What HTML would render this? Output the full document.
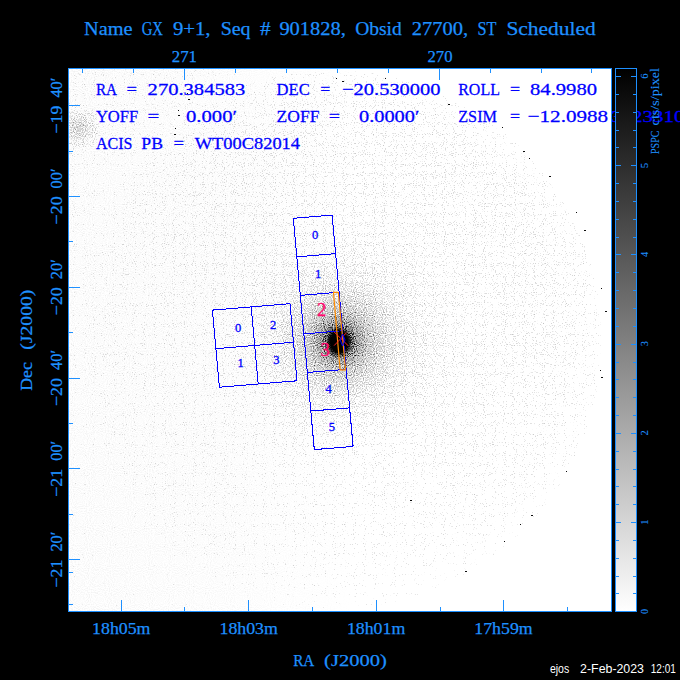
<!DOCTYPE html><html><head><meta charset="utf-8"><style>
html,body{margin:0;padding:0;background:#000;width:680px;height:680px;overflow:hidden}
svg{display:block}
text{font-family:"Liberation Serif",serif}
</style></head><body>
<svg width="680" height="680" viewBox="0 0 680 680">
<defs>
<linearGradient id="cb" x1="0" y1="0" x2="0" y2="1">
<stop offset="0" stop-color="#000"/><stop offset="1" stop-color="#fff"/>
</linearGradient>
<radialGradient id="core" cx="339" cy="342" r="13" gradientUnits="userSpaceOnUse">
<stop offset="0" stop-color="#000" stop-opacity="1"/>
<stop offset="0.65" stop-color="#000" stop-opacity="1"/>
<stop offset="1" stop-color="#000" stop-opacity="0"/>
</radialGradient>
<filter id="spk" x="68" y="68" width="544" height="544" filterUnits="userSpaceOnUse" color-interpolation-filters="sRGB">
<feTurbulence type="fractalNoise" baseFrequency="0.9" numOctaves="1" seed="7" result="n"/>
<feComposite in="n" in2="SourceGraphic" operator="arithmetic" k1="0" k2="1" k3="1" k4="-1" result="c"/>
<feComponentTransfer in="c" result="a"><feFuncA type="table" tableValues="0 0.1 0.13 0.17 0.22 0.29 0.38 0.48 0.6 0.72 0.84 0.94 1 1 1 1 1 1 1 1 1"/></feComponentTransfer>
<feFlood flood-color="#000" result="blk"/>
<feComposite in="blk" in2="a" operator="in"/>
</filter>
<radialGradient id="dfield" cx="430" cy="200" r="450" gradientUnits="userSpaceOnUse">
<stop offset="0" stop-color="#000" stop-opacity="0.40"/>
<stop offset="0.4" stop-color="#000" stop-opacity="0.395"/>
<stop offset="0.6" stop-color="#000" stop-opacity="0.37"/>
<stop offset="0.8" stop-color="#000" stop-opacity="0.34"/>
<stop offset="1" stop-color="#000" stop-opacity="0.32"/>
</radialGradient>
<linearGradient id="dbase" x1="200" y1="0" x2="420" y2="0" gradientUnits="userSpaceOnUse">
<stop offset="0" stop-color="#fff" stop-opacity="1"/>
<stop offset="1" stop-color="#fff" stop-opacity="0"/>
</linearGradient>
<mask id="mout" maskUnits="userSpaceOnUse" x="0" y="0" width="680" height="680"><rect x="0" y="0" width="680" height="680" fill="url(#dbase)"/><circle cx="332" cy="340" r="270" fill="#000"/></mask>
<radialGradient id="dsrc" cx="339" cy="341" r="130" gradientUnits="userSpaceOnUse">
<stop offset="0" stop-color="#000" stop-opacity="1"/>
<stop offset="0.07" stop-color="#000" stop-opacity="1"/>
<stop offset="0.14" stop-color="#000" stop-opacity="0.66"/>
<stop offset="0.23" stop-color="#000" stop-opacity="0.44"/>
<stop offset="0.35" stop-color="#000" stop-opacity="0.28"/>
<stop offset="0.5" stop-color="#000" stop-opacity="0.14"/>
<stop offset="0.75" stop-color="#000" stop-opacity="0.04"/>
<stop offset="1" stop-color="#000" stop-opacity="0"/>
</radialGradient>
<radialGradient id="dfaint" cx="79" cy="128" r="26" gradientUnits="userSpaceOnUse">
<stop offset="0" stop-color="#000" stop-opacity="0.42"/>
<stop offset="0.4" stop-color="#000" stop-opacity="0.3"/>
<stop offset="1" stop-color="#000" stop-opacity="0"/>
</radialGradient>
<radialGradient id="dann" cx="332" cy="340" r="270" gradientUnits="userSpaceOnUse">
<stop offset="0" stop-color="#000" stop-opacity="0"/>
<stop offset="0.6" stop-color="#000" stop-opacity="0"/>
<stop offset="0.9" stop-color="#000" stop-opacity="0.04"/>
<stop offset="1" stop-color="#000" stop-opacity="0.06"/>
</radialGradient>
<linearGradient id="mlin" x1="220" y1="0" x2="470" y2="0" gradientUnits="userSpaceOnUse">
<stop offset="0" stop-color="#fff" stop-opacity="0"/>
<stop offset="1" stop-color="#fff" stop-opacity="1"/>
</linearGradient>
<mask id="mright" maskUnits="userSpaceOnUse" x="0" y="0" width="680" height="680"><rect x="0" y="0" width="680" height="680" fill="url(#mlin)"/></mask>
<filter id="haze" x="68" y="68" width="544" height="544" filterUnits="userSpaceOnUse" color-interpolation-filters="sRGB">
<feTurbulence type="fractalNoise" baseFrequency="0.95" numOctaves="1" seed="23" result="n"/>
<feColorMatrix in="n" type="matrix" values="0 0 0 0 0  0 0 0 0 0  0 0 0 0 0  0.14 0 0 0 -0.058"/>
</filter>
<linearGradient id="hlin" x1="68" y1="0" x2="360" y2="0" gradientUnits="userSpaceOnUse">
<stop offset="0" stop-color="#fff" stop-opacity="1"/>
<stop offset="0.5" stop-color="#fff" stop-opacity="0.8"/>
<stop offset="1" stop-color="#fff" stop-opacity="0"/>
</linearGradient>
<mask id="mhaze" maskUnits="userSpaceOnUse" x="0" y="0" width="680" height="680"><rect x="0" y="0" width="680" height="680" fill="url(#hlin)"/></mask>
<linearGradient id="dvert" x1="0" y1="68" x2="0" y2="612" gradientUnits="userSpaceOnUse">
<stop offset="0" stop-color="#000" stop-opacity="0.335"/>
<stop offset="0.45" stop-color="#000" stop-opacity="0.315"/>
<stop offset="1" stop-color="#000" stop-opacity="0.26"/>
</linearGradient>
<radialGradient id="gedge" cx="332" cy="340" r="270" gradientUnits="userSpaceOnUse">
<stop offset="0" stop-color="#fff" stop-opacity="1"/>
<stop offset="0.88" stop-color="#fff" stop-opacity="1"/>
<stop offset="1" stop-color="#fff" stop-opacity="0.86"/>
</radialGradient>
<mask id="medge" maskUnits="userSpaceOnUse" x="0" y="0" width="680" height="680"><rect x="0" y="0" width="680" height="680" fill="url(#gedge)"/></mask>
</defs>
<rect x="0" y="0" width="680" height="680" fill="#000"/>
<rect x="68" y="68" width="544" height="544" fill="#fff"/>
<g mask="url(#mhaze)"><rect x="68" y="68" width="544" height="544" fill="#000" filter="url(#haze)"/></g>
<g filter="url(#spk)">
<rect x="68" y="68" width="544" height="544" fill="url(#dvert)" mask="url(#mout)"/>
<circle cx="332" cy="340" r="270" fill="url(#dfield)" mask="url(#medge)"/>
<circle cx="339" cy="341" r="130" fill="url(#dsrc)"/>
<circle cx="79" cy="128" r="26" fill="url(#dfaint)"/>
</g>
<ellipse cx="339" cy="342" rx="13" ry="13" fill="url(#core)" transform="translate(339 342) scale(1 1.2) translate(-339 -342)"/>

<g fill="#000" shape-rendering="crispEdges"><rect x="187" y="93" width="1" height="1" fill-opacity="0.95"/><rect x="188" y="99" width="2" height="1" fill-opacity="0.95"/><rect x="178" y="110" width="1" height="1" fill-opacity="0.95"/><rect x="178" y="115" width="2" height="1" fill-opacity="0.95"/><rect x="175" y="128" width="1" height="1" fill-opacity="0.95"/><rect x="174" y="134" width="2" height="1" fill-opacity="0.95"/><rect x="502" y="127" width="1" height="1" fill-opacity="0.95"/><rect x="523" y="151" width="2" height="1" fill-opacity="0.95"/><rect x="529" y="158" width="1" height="1" fill-opacity="0.95"/><rect x="549" y="176" width="2" height="1" fill-opacity="0.95"/><rect x="576" y="212" width="1" height="1" fill-opacity="0.95"/><rect x="584" y="230" width="2" height="1" fill-opacity="0.95"/><rect x="601" y="288" width="1" height="1" fill-opacity="0.95"/><rect x="605" y="311" width="2" height="1" fill-opacity="0.95"/><rect x="600" y="370" width="1" height="1" fill-opacity="0.95"/><rect x="601" y="377" width="2" height="1" fill-opacity="0.95"/><rect x="566" y="471" width="1" height="1" fill-opacity="0.95"/><rect x="531" y="515" width="2" height="1" fill-opacity="0.95"/><rect x="504" y="541" width="1" height="1" fill-opacity="0.95"/><rect x="465" y="571" width="2" height="1" fill-opacity="0.95"/><rect x="336" y="78" width="1" height="1" fill-opacity="0.95"/><rect x="342" y="81" width="2" height="1" fill-opacity="0.95"/><rect x="385" y="78" width="1" height="1" fill-opacity="0.95"/><rect x="448" y="104" width="2" height="1" fill-opacity="0.95"/><rect x="520" y="524" width="1" height="1" fill-opacity="0.95"/><rect x="410" y="500" width="2" height="1" fill-opacity="0.95"/><rect x="392" y="84" width="1" height="1" fill-opacity="0.95"/></g>
<g shape-rendering="crispEdges">
<line x1="293.30" y1="218.30" x2="332.10" y2="215.10" stroke="#0000ff" stroke-width="1"/>
<line x1="296.80" y1="256.85" x2="335.60" y2="253.65" stroke="#0000ff" stroke-width="1"/>
<line x1="300.30" y1="295.40" x2="339.10" y2="292.20" stroke="#0000ff" stroke-width="1"/>
<line x1="303.80" y1="333.95" x2="342.60" y2="330.75" stroke="#0000ff" stroke-width="1"/>
<line x1="307.30" y1="372.50" x2="346.10" y2="369.30" stroke="#0000ff" stroke-width="1"/>
<line x1="310.80" y1="411.05" x2="349.60" y2="407.85" stroke="#0000ff" stroke-width="1"/>
<line x1="314.30" y1="449.60" x2="353.10" y2="446.40" stroke="#0000ff" stroke-width="1"/>
<line x1="293.30" y1="218.30" x2="314.30" y2="449.60" stroke="#0000ff" stroke-width="1"/>
<line x1="332.10" y1="215.10" x2="353.10" y2="446.40" stroke="#0000ff" stroke-width="1"/>
<line x1="212.40" y1="310.10" x2="290.00" y2="303.70" stroke="#0000ff" stroke-width="1"/>
<line x1="215.90" y1="348.65" x2="293.50" y2="342.25" stroke="#0000ff" stroke-width="1"/>
<line x1="219.40" y1="387.20" x2="297.00" y2="380.80" stroke="#0000ff" stroke-width="1"/>
<line x1="212.40" y1="310.10" x2="219.40" y2="387.20" stroke="#0000ff" stroke-width="1"/>
<line x1="251.20" y1="306.90" x2="258.20" y2="384.00" stroke="#0000ff" stroke-width="1"/>
<line x1="290.00" y1="303.70" x2="297.00" y2="380.80" stroke="#0000ff" stroke-width="1"/>
</g>
<text x="238.00" y="327.60" font-size="12.5" fill="#0000ff" text-anchor="middle" dominant-baseline="central" stroke="#0000ff" stroke-width="0.3">0</text>
<text x="273.00" y="325.00" font-size="12.5" fill="#0000ff" text-anchor="middle" dominant-baseline="central" stroke="#0000ff" stroke-width="0.3">2</text>
<text x="240.70" y="363.00" font-size="12.5" fill="#0000ff" text-anchor="middle" dominant-baseline="central" stroke="#0000ff" stroke-width="0.3">1</text>
<text x="276.30" y="360.40" font-size="12.5" fill="#0000ff" text-anchor="middle" dominant-baseline="central" stroke="#0000ff" stroke-width="0.3">3</text>
<text x="315.00" y="235.00" font-size="12.5" fill="#0000ff" text-anchor="middle" dominant-baseline="central" stroke="#0000ff" stroke-width="0.3">0</text>
<text x="318.20" y="273.50" font-size="12.5" fill="#0000ff" text-anchor="middle" dominant-baseline="central" stroke="#0000ff" stroke-width="0.3">1</text>
<text x="328.60" y="389.00" font-size="12.5" fill="#0000ff" text-anchor="middle" dominant-baseline="central" stroke="#0000ff" stroke-width="0.3">4</text>
<text x="331.80" y="427.00" font-size="12.5" fill="#0000ff" text-anchor="middle" dominant-baseline="central" stroke="#0000ff" stroke-width="0.3">5</text>
<text x="321.50" y="310.00" font-size="18.5" fill="#ff0a6e" text-anchor="middle" dominant-baseline="central" stroke="#ff0a6e" stroke-width="0.35">2</text>
<text x="325.00" y="350.30" font-size="18.5" fill="#ff0a6e" text-anchor="middle" dominant-baseline="central" stroke="#ff0a6e" stroke-width="0.35">3</text>
<polygon points="333.5,292.3 338.3,292.3 345.6,369.8 340.1,369.8" fill="none" stroke="#ff8c00" stroke-width="1.2"/>
<line x1="334.1" y1="331.9" x2="348.1" y2="345.6" stroke="#ff2020" stroke-width="1"/><line x1="346.6" y1="332.6" x2="334.1" y2="345.6" stroke="#ff2020" stroke-width="1"/>
<polygon points="342.6,334 345,340 342.6,346 340.2,340" fill="none" stroke="#0000ff" stroke-width="1"/>
<text x="95.90" y="95.00" font-size="16.9" fill="#0000ff" stroke="#0000ff" stroke-width="0.26" textLength="21.09" lengthAdjust="spacingAndGlyphs" style="font-family:'Liberation Serif'" >RA</text>
<text x="126.50" y="95.00" font-size="16.9" fill="#0000ff" stroke="#0000ff" stroke-width="0.26" textLength="10.48" lengthAdjust="spacingAndGlyphs" style="font-family:'Liberation Serif'" >=</text>
<text x="147.60" y="95.00" font-size="16.9" fill="#0000ff" stroke="#0000ff" stroke-width="0.26" textLength="97.70" lengthAdjust="spacingAndGlyphs" style="font-family:'Liberation Serif'" >270.384583</text>
<text x="276.60" y="95.00" font-size="16.9" fill="#0000ff" stroke="#0000ff" stroke-width="0.26" textLength="33.10" lengthAdjust="spacingAndGlyphs" style="font-family:'Liberation Serif'" >DEC</text>
<text x="320.30" y="95.00" font-size="16.9" fill="#0000ff" stroke="#0000ff" stroke-width="0.26" textLength="9.98" lengthAdjust="spacingAndGlyphs" style="font-family:'Liberation Serif'" >=</text>
<text x="342.00" y="95.00" font-size="16.9" fill="#0000ff" stroke="#0000ff" stroke-width="0.26" textLength="98.58" lengthAdjust="spacingAndGlyphs" style="font-family:'Liberation Serif'" >−20.530000</text>
<text x="458.20" y="95.00" font-size="16.9" fill="#0000ff" stroke="#0000ff" stroke-width="0.26" textLength="41.71" lengthAdjust="spacingAndGlyphs" style="font-family:'Liberation Serif'" >ROLL</text>
<text x="510.00" y="95.00" font-size="16.9" fill="#0000ff" stroke="#0000ff" stroke-width="0.26" textLength="10.08" lengthAdjust="spacingAndGlyphs" style="font-family:'Liberation Serif'" >=</text>
<text x="530.00" y="95.00" font-size="16.9" fill="#0000ff" stroke="#0000ff" stroke-width="0.26" textLength="67.10" lengthAdjust="spacingAndGlyphs" style="font-family:'Liberation Serif'" >84.9980</text>
<text x="95.90" y="122.00" font-size="16.9" fill="#0000ff" stroke="#0000ff" stroke-width="0.26" textLength="42.33" lengthAdjust="spacingAndGlyphs" style="font-family:'Liberation Serif'" >YOFF</text>
<text x="147.60" y="122.00" font-size="16.9" fill="#0000ff" stroke="#0000ff" stroke-width="0.26" textLength="11.78" lengthAdjust="spacingAndGlyphs" style="font-family:'Liberation Serif'" >=</text>
<text x="186.00" y="122.00" font-size="16.9" fill="#0000ff" stroke="#0000ff" stroke-width="0.26" textLength="51.07" lengthAdjust="spacingAndGlyphs" style="font-family:'Liberation Serif'" >0.000′</text>
<text x="276.60" y="122.00" font-size="16.9" fill="#0000ff" stroke="#0000ff" stroke-width="0.26" textLength="42.81" lengthAdjust="spacingAndGlyphs" style="font-family:'Liberation Serif'" >ZOFF</text>
<text x="328.80" y="122.00" font-size="16.9" fill="#0000ff" stroke="#0000ff" stroke-width="0.26" textLength="11.28" lengthAdjust="spacingAndGlyphs" style="font-family:'Liberation Serif'" >=</text>
<text x="359.00" y="122.00" font-size="16.9" fill="#0000ff" stroke="#0000ff" stroke-width="0.26" textLength="60.37" lengthAdjust="spacingAndGlyphs" style="font-family:'Liberation Serif'" >0.0000′</text>
<text x="458.20" y="122.00" font-size="16.9" fill="#0000ff" stroke="#0000ff" stroke-width="0.26" textLength="38.79" lengthAdjust="spacingAndGlyphs" style="font-family:'Liberation Serif'" >ZSIM</text>
<text x="510.00" y="122.00" font-size="16.9" fill="#0000ff" stroke="#0000ff" stroke-width="0.26" textLength="10.08" lengthAdjust="spacingAndGlyphs" style="font-family:'Liberation Serif'" >=</text>
<text x="527.60" y="122.00" font-size="16.9" fill="#0000ff" stroke="#0000ff" stroke-width="0.26" textLength="80.58" lengthAdjust="spacingAndGlyphs" style="font-family:'Liberation Serif'" >−12.0988</text>
<text x="610.90" y="122.00" font-size="16.9" fill="#0000ff" stroke="#0000ff" stroke-width="0.26" textLength="73.60" lengthAdjust="spacingAndGlyphs" style="font-family:'Liberation Serif'" >3423310</text>
<text x="95.90" y="149.00" font-size="16.9" fill="#0000ff" stroke="#0000ff" stroke-width="0.26" textLength="36.47" lengthAdjust="spacingAndGlyphs" style="font-family:'Liberation Serif'" >ACIS</text>
<text x="141.30" y="149.00" font-size="16.9" fill="#0000ff" stroke="#0000ff" stroke-width="0.26" textLength="21.67" lengthAdjust="spacingAndGlyphs" style="font-family:'Liberation Serif'" >PB</text>
<text x="173.50" y="149.00" font-size="16.9" fill="#0000ff" stroke="#0000ff" stroke-width="0.26" textLength="10.58" lengthAdjust="spacingAndGlyphs" style="font-family:'Liberation Serif'" >=</text>
<text x="194.70" y="149.00" font-size="16.9" fill="#0000ff" stroke="#0000ff" stroke-width="0.26" textLength="105.33" lengthAdjust="spacingAndGlyphs" style="font-family:'Liberation Serif'" >WT00C82014</text>
<g fill="#1e90ff" shape-rendering="crispEdges">
<rect x="68" y="68" width="544" height="1"/><rect x="68" y="611" width="544" height="1"/>
<rect x="68" y="68" width="1" height="544"/><rect x="611" y="68" width="1" height="544"/>
<rect x="82" y="69" width="1" height="4"/>
<rect x="133" y="69" width="1" height="4"/>
<rect x="184" y="69" width="1" height="11"/>
<rect x="235" y="69" width="1" height="4"/>
<rect x="286" y="69" width="1" height="4"/>
<rect x="337" y="69" width="1" height="4"/>
<rect x="388" y="69" width="1" height="4"/>
<rect x="439" y="69" width="1" height="11"/>
<rect x="490" y="69" width="1" height="4"/>
<rect x="541" y="69" width="1" height="4"/>
<rect x="591" y="69" width="1" height="4"/>
<rect x="121" y="600" width="1" height="11"/>
<rect x="184" y="607" width="1" height="4"/>
<rect x="248" y="600" width="1" height="11"/>
<rect x="312" y="607" width="1" height="4"/>
<rect x="376" y="600" width="1" height="11"/>
<rect x="440" y="607" width="1" height="4"/>
<rect x="503" y="600" width="1" height="11"/>
<rect x="567" y="607" width="1" height="4"/>
<rect x="69" y="105" width="11" height="1"/>
<rect x="69" y="151" width="4" height="1"/>
<rect x="69" y="196" width="11" height="1"/>
<rect x="69" y="241" width="4" height="1"/>
<rect x="69" y="287" width="11" height="1"/>
<rect x="69" y="332" width="4" height="1"/>
<rect x="69" y="378" width="11" height="1"/>
<rect x="69" y="423" width="4" height="1"/>
<rect x="69" y="468" width="11" height="1"/>
<rect x="69" y="514" width="4" height="1"/>
<rect x="69" y="559" width="11" height="1"/>
<rect x="69" y="604" width="4" height="1"/>
<rect x="69" y="572" width="4" height="1"/>
</g>
<rect x="615" y="68" width="22" height="544" fill="#000"/>
<rect x="616" y="69" width="20" height="542" fill="url(#cb)"/>
<g fill="#1e90ff" shape-rendering="crispEdges">
<rect x="615" y="68" width="22" height="1"/><rect x="615" y="611" width="22" height="1"/>
<rect x="615" y="68" width="1" height="544"/><rect x="636" y="68" width="1" height="544"/>
<rect x="616" y="611" width="5" height="1"/><rect x="631" y="611" width="5" height="1"/>
<rect x="616" y="593" width="3" height="1"/><rect x="633" y="593" width="3" height="1"/>
<rect x="616" y="576" width="3" height="1"/><rect x="633" y="576" width="3" height="1"/>
<rect x="616" y="558" width="3" height="1"/><rect x="633" y="558" width="3" height="1"/>
<rect x="616" y="540" width="3" height="1"/><rect x="633" y="540" width="3" height="1"/>
<rect x="616" y="522" width="5" height="1"/><rect x="631" y="522" width="5" height="1"/>
<rect x="616" y="504" width="3" height="1"/><rect x="633" y="504" width="3" height="1"/>
<rect x="616" y="486" width="3" height="1"/><rect x="633" y="486" width="3" height="1"/>
<rect x="616" y="469" width="3" height="1"/><rect x="633" y="469" width="3" height="1"/>
<rect x="616" y="451" width="3" height="1"/><rect x="633" y="451" width="3" height="1"/>
<rect x="616" y="433" width="5" height="1"/><rect x="631" y="433" width="5" height="1"/>
<rect x="616" y="415" width="3" height="1"/><rect x="633" y="415" width="3" height="1"/>
<rect x="616" y="397" width="3" height="1"/><rect x="633" y="397" width="3" height="1"/>
<rect x="616" y="379" width="3" height="1"/><rect x="633" y="379" width="3" height="1"/>
<rect x="616" y="362" width="3" height="1"/><rect x="633" y="362" width="3" height="1"/>
<rect x="616" y="344" width="5" height="1"/><rect x="631" y="344" width="5" height="1"/>
<rect x="616" y="326" width="3" height="1"/><rect x="633" y="326" width="3" height="1"/>
<rect x="616" y="308" width="3" height="1"/><rect x="633" y="308" width="3" height="1"/>
<rect x="616" y="290" width="3" height="1"/><rect x="633" y="290" width="3" height="1"/>
<rect x="616" y="272" width="3" height="1"/><rect x="633" y="272" width="3" height="1"/>
<rect x="616" y="254" width="5" height="1"/><rect x="631" y="254" width="5" height="1"/>
<rect x="616" y="237" width="3" height="1"/><rect x="633" y="237" width="3" height="1"/>
<rect x="616" y="219" width="3" height="1"/><rect x="633" y="219" width="3" height="1"/>
<rect x="616" y="201" width="3" height="1"/><rect x="633" y="201" width="3" height="1"/>
<rect x="616" y="183" width="3" height="1"/><rect x="633" y="183" width="3" height="1"/>
<rect x="616" y="165" width="5" height="1"/><rect x="631" y="165" width="5" height="1"/>
<rect x="616" y="147" width="3" height="1"/><rect x="633" y="147" width="3" height="1"/>
<rect x="616" y="130" width="3" height="1"/><rect x="633" y="130" width="3" height="1"/>
<rect x="616" y="112" width="3" height="1"/><rect x="633" y="112" width="3" height="1"/>
<rect x="616" y="94" width="3" height="1"/><rect x="633" y="94" width="3" height="1"/>
<rect x="616" y="76" width="5" height="1"/><rect x="631" y="76" width="5" height="1"/>
</g>
<text x="84.00" y="35.00" font-size="18.5" fill="#1e90ff" stroke="#1e90ff" stroke-width="0.25" textLength="48.45" lengthAdjust="spacingAndGlyphs" style="font-family:'Liberation Serif'" >Name</text>
<text x="141.70" y="35.00" font-size="18.5" fill="#1e90ff" stroke="#1e90ff" stroke-width="0.25" textLength="21.29" lengthAdjust="spacingAndGlyphs" style="font-family:'Liberation Serif'" >GX</text>
<text x="172.90" y="35.00" font-size="18.5" fill="#1e90ff" stroke="#1e90ff" stroke-width="0.25" textLength="37.68" lengthAdjust="spacingAndGlyphs" style="font-family:'Liberation Serif'" >9+1,</text>
<text x="220.70" y="35.00" font-size="18.5" fill="#1e90ff" stroke="#1e90ff" stroke-width="0.25" textLength="29.90" lengthAdjust="spacingAndGlyphs" style="font-family:'Liberation Serif'" >Seq</text>
<text x="260.00" y="35.00" font-size="18.5" fill="#1e90ff" stroke="#1e90ff" stroke-width="0.25" textLength="10.60" lengthAdjust="spacingAndGlyphs" style="font-family:'Liberation Serif'" >#</text>
<text x="279.40" y="35.00" font-size="18.5" fill="#1e90ff" stroke="#1e90ff" stroke-width="0.25" textLength="66.40" lengthAdjust="spacingAndGlyphs" style="font-family:'Liberation Serif'" >901828,</text>
<text x="355.20" y="35.00" font-size="18.5" fill="#1e90ff" stroke="#1e90ff" stroke-width="0.25" textLength="46.58" lengthAdjust="spacingAndGlyphs" style="font-family:'Liberation Serif'" >Obsid</text>
<text x="411.80" y="35.00" font-size="18.5" fill="#1e90ff" stroke="#1e90ff" stroke-width="0.25" textLength="56.40" lengthAdjust="spacingAndGlyphs" style="font-family:'Liberation Serif'" >27700,</text>
<text x="477.60" y="35.00" font-size="18.5" fill="#1e90ff" stroke="#1e90ff" stroke-width="0.25" textLength="18.93" lengthAdjust="spacingAndGlyphs" style="font-family:'Liberation Serif'" >ST</text>
<text x="506.40" y="35.00" font-size="18.5" fill="#1e90ff" stroke="#1e90ff" stroke-width="0.25" textLength="89.31" lengthAdjust="spacingAndGlyphs" style="font-family:'Liberation Serif'" >Scheduled</text>
<text x="171.80" y="62.00" font-size="16.9" fill="#1e90ff" stroke="#1e90ff" stroke-width="0.25" textLength="25.20" lengthAdjust="spacingAndGlyphs" style="font-family:'Liberation Serif'" >271</text>
<text x="427.50" y="62.00" font-size="16.9" fill="#1e90ff" stroke="#1e90ff" stroke-width="0.25" textLength="25.00" lengthAdjust="spacingAndGlyphs" style="font-family:'Liberation Serif'" >270</text>
<text x="92.10" y="634.00" font-size="16.9" fill="#1e90ff" stroke="#1e90ff" stroke-width="0.25" textLength="58.36" lengthAdjust="spacingAndGlyphs" style="font-family:'Liberation Serif'" >18h05m</text>
<text x="219.50" y="634.00" font-size="16.9" fill="#1e90ff" stroke="#1e90ff" stroke-width="0.25" textLength="58.36" lengthAdjust="spacingAndGlyphs" style="font-family:'Liberation Serif'" >18h03m</text>
<text x="346.90" y="634.00" font-size="16.9" fill="#1e90ff" stroke="#1e90ff" stroke-width="0.25" textLength="58.36" lengthAdjust="spacingAndGlyphs" style="font-family:'Liberation Serif'" >18h01m</text>
<text x="474.30" y="634.00" font-size="16.9" fill="#1e90ff" stroke="#1e90ff" stroke-width="0.25" textLength="58.36" lengthAdjust="spacingAndGlyphs" style="font-family:'Liberation Serif'" >17h59m</text>
<text x="293.20" y="666.00" font-size="17.5" fill="#1e90ff" stroke="#1e90ff" stroke-width="0.25" textLength="21.19" lengthAdjust="spacingAndGlyphs" style="font-family:'Liberation Serif'" >RA</text>
<text x="324.10" y="666.00" font-size="17.5" fill="#1e90ff" stroke="#1e90ff" stroke-width="0.25" textLength="62.70" lengthAdjust="spacingAndGlyphs" style="font-family:'Liberation Serif'" >(J2000)</text>
<text transform="translate(32.20,0) rotate(-90)" x="-390.80" y="0" font-size="17" fill="#1e90ff" stroke="#1e90ff" stroke-width="0.25" textLength="28.80" lengthAdjust="spacingAndGlyphs" >Dec</text>
<text transform="translate(32.20,0) rotate(-90)" x="-349.70" y="0" font-size="17" fill="#1e90ff" stroke="#1e90ff" stroke-width="0.25" textLength="60.00" lengthAdjust="spacingAndGlyphs" >(J2000)</text>
<text transform="translate(62.30,0) rotate(-90)" x="-133.60" y="0" font-size="16.5" fill="#1e90ff" stroke="#1e90ff" stroke-width="0.25" textLength="27.98" lengthAdjust="spacingAndGlyphs" >−19</text>
<text transform="translate(62.30,0) rotate(-90)" x="-97.60" y="0" font-size="16.5" fill="#1e90ff" stroke="#1e90ff" stroke-width="0.25" textLength="19.98" lengthAdjust="spacingAndGlyphs" >40′</text>
<text transform="translate(62.30,0) rotate(-90)" x="-224.40" y="0" font-size="16.5" fill="#1e90ff" stroke="#1e90ff" stroke-width="0.25" textLength="27.98" lengthAdjust="spacingAndGlyphs" >−20</text>
<text transform="translate(62.30,0) rotate(-90)" x="-188.40" y="0" font-size="16.5" fill="#1e90ff" stroke="#1e90ff" stroke-width="0.25" textLength="19.98" lengthAdjust="spacingAndGlyphs" >00′</text>
<text transform="translate(62.30,0) rotate(-90)" x="-315.20" y="0" font-size="16.5" fill="#1e90ff" stroke="#1e90ff" stroke-width="0.25" textLength="27.98" lengthAdjust="spacingAndGlyphs" >−20</text>
<text transform="translate(62.30,0) rotate(-90)" x="-279.20" y="0" font-size="16.5" fill="#1e90ff" stroke="#1e90ff" stroke-width="0.25" textLength="19.98" lengthAdjust="spacingAndGlyphs" >20′</text>
<text transform="translate(62.30,0) rotate(-90)" x="-406.00" y="0" font-size="16.5" fill="#1e90ff" stroke="#1e90ff" stroke-width="0.25" textLength="27.98" lengthAdjust="spacingAndGlyphs" >−20</text>
<text transform="translate(62.30,0) rotate(-90)" x="-370.00" y="0" font-size="16.5" fill="#1e90ff" stroke="#1e90ff" stroke-width="0.25" textLength="19.98" lengthAdjust="spacingAndGlyphs" >40′</text>
<text transform="translate(62.30,0) rotate(-90)" x="-496.80" y="0" font-size="16.5" fill="#1e90ff" stroke="#1e90ff" stroke-width="0.25" textLength="27.98" lengthAdjust="spacingAndGlyphs" >−21</text>
<text transform="translate(62.30,0) rotate(-90)" x="-460.80" y="0" font-size="16.5" fill="#1e90ff" stroke="#1e90ff" stroke-width="0.25" textLength="19.98" lengthAdjust="spacingAndGlyphs" >00′</text>
<text transform="translate(62.30,0) rotate(-90)" x="-587.60" y="0" font-size="16.5" fill="#1e90ff" stroke="#1e90ff" stroke-width="0.25" textLength="27.98" lengthAdjust="spacingAndGlyphs" >−21</text>
<text transform="translate(62.30,0) rotate(-90)" x="-551.60" y="0" font-size="16.5" fill="#1e90ff" stroke="#1e90ff" stroke-width="0.25" textLength="19.98" lengthAdjust="spacingAndGlyphs" >20′</text>
<text transform="translate(648.30,0) rotate(-90)" x="-613.90" y="0" font-size="10.5" fill="#1e90ff" stroke="#1e90ff" stroke-width="0.1" textLength="5.20" lengthAdjust="spacingAndGlyphs" >0</text>
<text transform="translate(648.30,0) rotate(-90)" x="-524.70" y="0" font-size="10.5" fill="#1e90ff" stroke="#1e90ff" stroke-width="0.1" textLength="5.20" lengthAdjust="spacingAndGlyphs" >1</text>
<text transform="translate(648.30,0) rotate(-90)" x="-435.50" y="0" font-size="10.5" fill="#1e90ff" stroke="#1e90ff" stroke-width="0.1" textLength="5.20" lengthAdjust="spacingAndGlyphs" >2</text>
<text transform="translate(648.30,0) rotate(-90)" x="-346.30" y="0" font-size="10.5" fill="#1e90ff" stroke="#1e90ff" stroke-width="0.1" textLength="5.20" lengthAdjust="spacingAndGlyphs" >3</text>
<text transform="translate(648.30,0) rotate(-90)" x="-257.10" y="0" font-size="10.5" fill="#1e90ff" stroke="#1e90ff" stroke-width="0.1" textLength="5.20" lengthAdjust="spacingAndGlyphs" >4</text>
<text transform="translate(648.30,0) rotate(-90)" x="-167.90" y="0" font-size="10.5" fill="#1e90ff" stroke="#1e90ff" stroke-width="0.1" textLength="5.20" lengthAdjust="spacingAndGlyphs" >5</text>
<text transform="translate(648.30,0) rotate(-90)" x="-78.70" y="0" font-size="10.5" fill="#1e90ff" stroke="#1e90ff" stroke-width="0.1" textLength="5.20" lengthAdjust="spacingAndGlyphs" >6</text>
<text transform="translate(658.50,0) rotate(-90)" x="-154.00" y="0" font-size="12.2" fill="#1e90ff" stroke="#1e90ff" stroke-width="0.1" textLength="23.41" lengthAdjust="spacingAndGlyphs" >PSPC</text>
<text transform="translate(658.50,0) rotate(-90)" x="-125.40" y="0" font-size="12.2" fill="#1e90ff" stroke="#1e90ff" stroke-width="0.1" textLength="57.40" lengthAdjust="spacingAndGlyphs" >cts/s/pixel</text>
<text x="549.90" y="673.20" font-size="12" fill="#fff"  textLength="19.30" lengthAdjust="spacingAndGlyphs" style="font-family:'Liberation Sans'" >ejos</text>
<text x="580.10" y="673.20" font-size="12" fill="#fff"  textLength="63.90" lengthAdjust="spacingAndGlyphs" style="font-family:'Liberation Sans'" >2-Feb-2023</text>
<text x="650.80" y="673.20" font-size="12" fill="#fff"  textLength="25.07" lengthAdjust="spacingAndGlyphs" style="font-family:'Liberation Sans'" >12:01</text>
</svg></body></html>
